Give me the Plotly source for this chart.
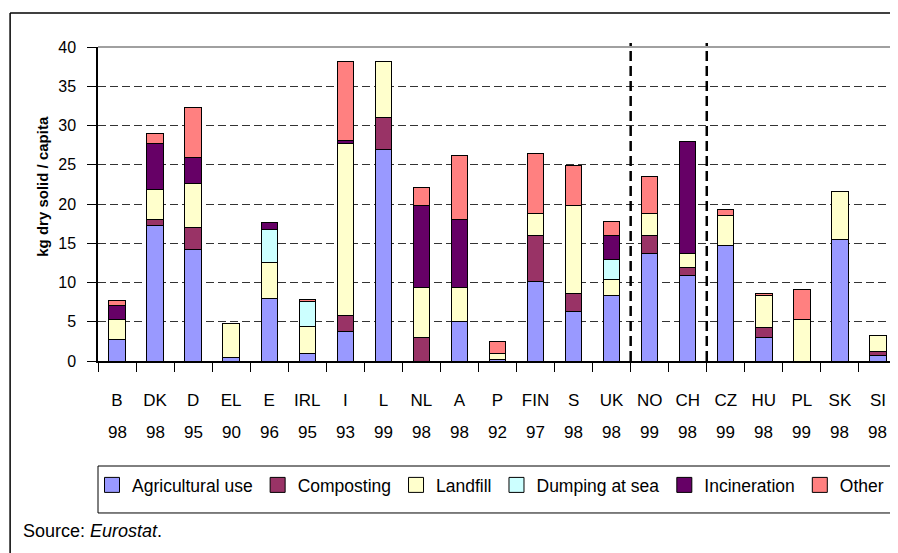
import plotly.graph_objects as go

categories = ["B", "DK", "D", "EL", "E", "IRL", "I", "L", "NL", "A", "P",
              "FIN", "S", "UK", "NO", "CH", "CZ", "HU", "PL", "SK", "SI"]
years = ["98", "98", "95", "90", "96", "95", "93", "99", "98", "98", "92",
         "97", "98", "98", "99", "98", "99", "98", "99", "98", "98"]

agricultural = [2.8, 17.3, 14.2, 0.5, 7.9, 1.0, 3.8, 27.0, 0, 5.05, 0.2,
                10.1, 6.3, 8.35, 13.7, 10.9, 14.7, 3.0, 0, 15.5, 0.7]
composting = [0, 0.75, 2.8, 0, 0, 0, 2.0, 4.0, 3.05, 0, 0,
              5.9, 2.3, 0, 2.3, 1.0, 0, 1.3, 0, 0, 0.5]
landfill = [2.5, 3.8, 5.6, 4.3, 4.6, 3.35, 21.9, 7.1, 6.3, 4.3, 0.8,
            2.85, 11.25, 2.05, 2.85, 1.8, 3.85, 4.05, 5.3, 6.1, 2.05]
dumping_sea = [0, 0, 0, 0, 4.3, 3.25, 0, 0, 0, 0, 0,
               0, 0, 2.55, 0, 0, 0, 0, 0, 0, 0]
incineration = [1.8, 5.9, 3.35, 0, 0.85, 0, 0.35, 0, 10.5, 8.65, 0,
                0, 0, 3.05, 0, 14.3, 0, 0, 0, 0, 0]
other = [0.55, 1.25, 6.35, 0, 0, 0.25, 10.15, 0, 2.3, 8.15, 1.5,
         7.6, 5.05, 1.8, 4.6, 0, 0.75, 0.25, 3.8, 0, 0]

series_names = ["Agricultural use", "Composting", "Landfill", "Dumping at sea", "Incineration", "Other"]
series_values = [agricultural, composting, landfill, dumping_sea, incineration, other]
series_colors = ["#9999FF", "#993366", "#FFFFCC", "#CCFFFF", "#660066", "#FF8080"]

yticks = [0, 5, 10, 15, 20, 25, 30, 35, 40]

FONT = "Liberation Sans, Arial, sans-serif"

fig = go.Figure()
for name, vals, col in zip(series_names, series_values, series_colors):
    fig.add_trace(go.Bar(
        x=categories, y=vals, name=name, marker=dict(color=col, line=dict(color="black", width=1)),
        showlegend=False,
    ))
# legend entries (square swatches)
for name, col in zip(series_names, series_colors):
    fig.add_trace(go.Scatter(
        x=[None], y=[None], mode="markers", name=name,
        marker=dict(symbol="square", size=15, color=col, line=dict(color="black", width=1)),
        showlegend=True,
    ))

# year labels under category labels
for c, yr in zip(categories, years):
    fig.add_annotation(x=c, y=-0.229, xref="x", yref="paper", text=yr, showarrow=False,
                       font=dict(family=FONT, size=17, color="black"), xanchor="center", yanchor="middle")

# axis title
fig.add_annotation(x=-0.0705, y=0.557, xref="paper", yref="paper", text="<b>kg dry solid / capita</b>",
                   textangle=-90, showarrow=False, font=dict(family=FONT, size=15, color="black"),
                   xanchor="center", yanchor="middle")
# source
fig.add_annotation(x=-0.0967, y=-0.540, xref="paper", yref="paper", text="Source: <i>Eurostat</i>.",
                   showarrow=False, font=dict(family=FONT, size=18, color="black"),
                   xanchor="left", yanchor="middle")

shapes = []
# plot area top/right border (gray)
shapes.append(dict(type="line", xref="paper", yref="paper", x0=0, x1=1, y0=1, y1=1,
                   line=dict(color="#808080", width=1.5)))
shapes.append(dict(type="line", xref="paper", yref="paper", x0=1, x1=1, y0=0, y1=1,
                   line=dict(color="#808080", width=1.5)))
# group separators
for xs in [13.5, 15.5]:
    shapes.append(dict(type="line", xref="x", yref="paper", x0=xs, x1=xs, y0=0, y1=1.013,
                       line=dict(color="black", width=2.5, dash="10px,5px")))
# legend box
shapes.append(dict(type="rect", xref="paper", yref="paper", x0=0, x1=0.9937, y0=-0.484, y1=-0.3344,
                   line=dict(color="black", width=1), fillcolor="rgba(0,0,0,0)"))
# outer frame
shapes.append(dict(type="line", xref="paper", yref="paper", x0=-0.110, x1=-0.110, y0=-0.7, y1=1.108,
                   line=dict(color="black", width=1.5)))
shapes.append(dict(type="line", xref="paper", yref="paper", x0=-0.110, x1=1.05, y0=1.108, y1=1.108,
                   line=dict(color="black", width=1.5)))

fig.update_layout(
    width=890, height=545,
    margin=dict(l=90, r=1, t=39, b=192, autoexpand=False),
    barmode="stack", bargap=0.57,
    paper_bgcolor="white", plot_bgcolor="white",
    shapes=shapes,
    showlegend=True,
    legend=dict(orientation="h", x=-0.0075, xanchor="left", y=-0.395, yanchor="middle",
                font=dict(family=FONT, size=17.5, color="black"), bgcolor="rgba(0,0,0,0)",
                borderwidth=0, itemsizing="trace", traceorder="normal"),
    xaxis=dict(type="category", categoryorder="array", categoryarray=categories,
               tickmode="array", tickvals=categories, ticktext=categories, tickangle=0,
               tickson="boundaries", ticks="outside", ticklen=9, tickcolor="black",
               showline=True, linecolor="black", linewidth=1.5, showgrid=False,
               tickfont=dict(family=FONT, size=17, color="black"), ticklabelstandoff=23),
    yaxis=dict(range=[0, 40], tickmode="array", tickvals=yticks, ticks="outside", ticklen=9,
               tickcolor="black", showline=True, linecolor="black", linewidth=1.5,
               showgrid=True, gridcolor="#333333", gridwidth=1, griddash="8px,4px",
               zeroline=False, tickfont=dict(family=FONT, size=16, color="black"),
               ticklabelstandoff=8),
)

fig.write_html("out.html")
